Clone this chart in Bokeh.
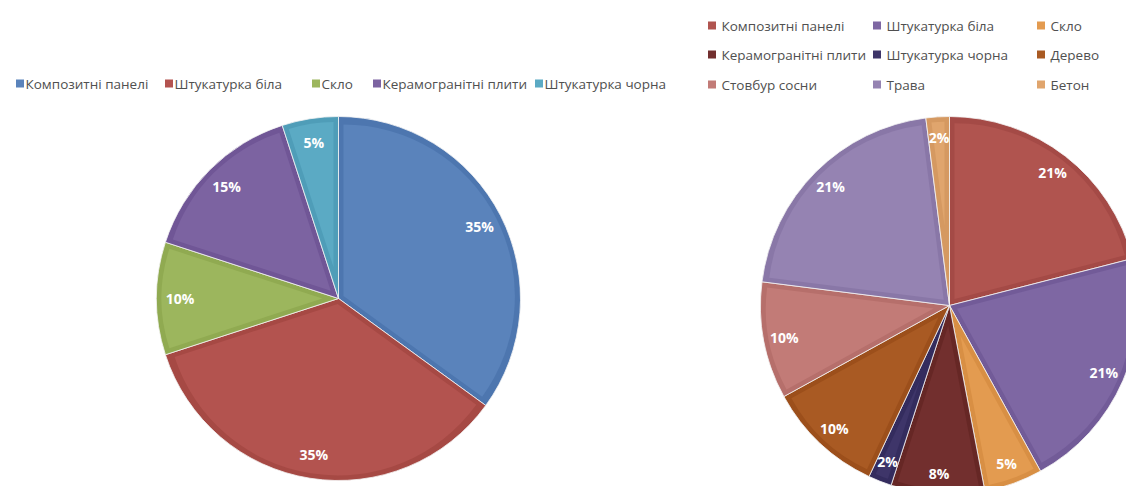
import math
from bokeh.plotting import figure
from bokeh.models import Range1d, ColumnDataSource
from bokeh.core.properties import value
from bokeh.embed import file_html
from bokeh.resources import INLINE

# ---------------- data ----------------
left_categories = ["Композитні панелі", "Штукатурка біла", "Скло",
                   "Керамогранітні плити", "Штукатурка чорна"]
left_values = [35, 35, 10, 15, 5]
left_colors = ["#5A83BB", "#B3534F", "#9CB65D", "#7C63A1", "#5BAAC4"]
left_border = ["#4D76AF", "#A64944", "#90AA51", "#705696", "#4F9DB8"]

right_categories = ["Композитні панелі", "Штукатурка біла", "Скло",
                    "Керамогранітні плити", "Штукатурка чорна", "Дерево",
                    "Стовбур сосни", "Трава", "Бетон"]
right_values = [21, 21, 5, 8, 2, 10, 10, 21, 2]
right_colors = ["#B0544F", "#7E67A3", "#E39B50", "#722F2E", "#3E3569",
                "#A95A23", "#C27B77", "#9583B2", "#E0A56D"]
right_border = ["#A44A46", "#725B98", "#D88F44", "#662725", "#342C5E",
                "#9C4F1B", "#B66F6B", "#8977A7", "#D59961"]

# ---------------- layout ----------------
W, H = 1126, 486

def sy(v):
    return H - v

p = figure(width=W, height=H, output_backend="svg", toolbar_location=None,
           x_range=Range1d(0, W), y_range=Range1d(0, H),
           min_border=0, x_axis_location=None, y_axis_location=None,
           outline_line_color=None, background_fill_color="white",
           border_fill_color="white")
p.grid.visible = False

FONT = "Open Sans"
BORDER = 5


def draw_pie(cx, cy, r, values, colors, borders, label_frac):
    total = float(sum(values))
    cum = 0.0
    xs, ys, rs, st, en, cl = [], [], [], [], [], []
    ixs, iys, irs, ist, ien, icl = [], [], [], [], [], []
    lx, ly, lt = [], [], []
    for v, c, b in zip(values, colors, borders):
        f = v / total
        a0 = math.pi / 2 - 2 * math.pi * cum
        a1 = math.pi / 2 - 2 * math.pi * (cum + f)
        xs.append(cx); ys.append(sy(cy)); rs.append(r)
        st.append(a0); en.append(a1); cl.append(b)
        half = math.pi * f
        mid = math.pi / 2 - 2 * math.pi * (cum + f / 2)
        shift = BORDER / math.sin(half)
        rr = r - BORDER - shift
        if rr > 0:
            ixs.append(cx + shift * math.cos(mid))
            iys.append(sy(cy) + shift * math.sin(mid))
            irs.append(rr); ist.append(a0); ien.append(a1); icl.append(c)
        lx.append(cx + label_frac * r * math.cos(mid))
        ly.append(sy(cy) + label_frac * r * math.sin(mid))
        lt.append(f"{round(v / total * 100):.0f}%")
        cum += f
    src = ColumnDataSource(dict(x=xs, y=ys, r=rs, s=st, e=en, c=cl))
    p.wedge(x="x", y="y", radius="r", radius_units="screen", start_angle="s",
            end_angle="e", direction="clock", fill_color="c",
            line_color="#F4F4F4", line_width=0.8, source=src)
    isrc = ColumnDataSource(dict(x=ixs, y=iys, r=irs, s=ist, e=ien, c=icl))
    p.wedge(x="x", y="y", radius="r", radius_units="screen", start_angle="s",
            end_angle="e", direction="clock", fill_color="c",
            line_color=None, source=isrc)
    lsrc = ColumnDataSource(dict(x=lx, y=ly, t=lt))
    p.text(x="x", y="y", text="t", source=lsrc, text_color="white",
           text_font=value(FONT), text_font_style="bold",
           text_font_size="14px", text_align="center",
           text_baseline="middle")


draw_pie(338, 298, 182, left_values, left_colors, left_border, 0.87)
draw_pie(949, 305, 189, right_values, right_colors, right_border, 0.89)

# ---------------- legends ----------------
left_leg_x = [16, 165, 312, 373, 535]
left_leg_y = 83
sq = ColumnDataSource(dict(x=[x + 3.5 for x in left_leg_x],
                           y=[sy(left_leg_y)] * len(left_leg_x),
                           c=left_colors))
p.scatter(x="x", y="y", marker="square", size=8, fill_color="c",
          line_color=None, source=sq)
tx = ColumnDataSource(dict(x=[x + 9 for x in left_leg_x],
                           y=[sy(left_leg_y)] * len(left_leg_x),
                           t=left_categories))
p.text(x="x", y="y", text="t", source=tx, text_color="#505050",
       text_font=value(FONT), text_font_size="13.5px", text_align="left",
       text_baseline="middle")

col_x = [708, 873, 1037]
row_y = [25, 54, 84]
rx, ry = [], []
for i in range(len(right_categories)):
    rx.append(col_x[i % 3]); ry.append(sy(row_y[i // 3]))
sq2 = ColumnDataSource(dict(x=[x + 3.5 for x in rx], y=ry, c=right_colors))
p.scatter(x="x", y="y", marker="square", size=8, fill_color="c",
          line_color=None, source=sq2)
tx2 = ColumnDataSource(dict(x=[x + 13 for x in rx], y=ry, t=right_categories))
p.text(x="x", y="y", text="t", source=tx2, text_color="#505050",
       text_font=value(FONT), text_font_size="13.5px", text_align="left",
       text_baseline="middle")

open("out.html", "w").write(file_html(p, INLINE))
